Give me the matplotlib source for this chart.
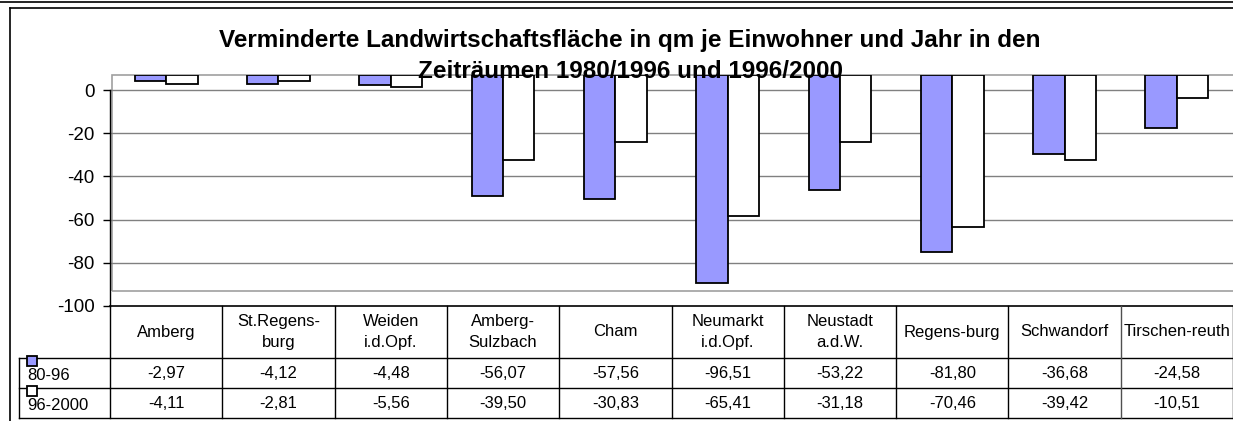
import matplotlib
matplotlib.use("Agg")
import matplotlib.pyplot as plt
from matplotlib.lines import Line2D
from matplotlib.patches import Rectangle

plt.rcParams['font.family'] = ['Liberation Sans', 'DejaVu Sans']

# ---- data ----
categories = ["Amberg", "St.Regens-\nburg", "Weiden\ni.d.Opf.", "Amberg-\nSulzbach", "Cham",
              "Neumarkt\ni.d.Opf.", "Neustadt\na.d.W.", "Regens-burg", "Schwandorf", "Tirschen-reuth"]
series_names = ["80-96", "96-2000"]
values_8096 = [-2.97, -4.12, -4.48, -56.07, -57.56, -96.51, -53.22, -81.80, -36.68, -24.58]
values_9600 = [-4.11, -2.81, -5.56, -39.50, -30.83, -65.41, -31.18, -70.46, -39.42, -10.51]
yticks = [0, -20, -40, -60, -80, -100]
title_lines = ["Verminderte Landwirtschaftsfläche in qm je Einwohner und Jahr in den",
               "Zeiträumen 1980/1996 und 1996/2000"]

W, H = 1233, 421
fig = plt.figure(figsize=(W / 100, H / 100), dpi=100)
fig.patch.set_facecolor("white")

def fx(px):
    return px / W

def fy(py):
    return 1 - py / H

# outer frame lines
fig.add_artist(Line2D([0, 1], [fy(1.5), fy(1.5)], color="black", lw=1.2))
fig.add_artist(Line2D([fx(10), 1], [fy(8), fy(8)], color="black", lw=1.2))
fig.add_artist(Line2D([fx(10), fx(10)], [fy(8), 0], color="black", lw=1.2))

# title
fig.text(fx(630), fy(47.5), title_lines[0], ha="center", va="baseline",
         fontsize=17.5, fontweight="bold")
fig.text(fx(630), fy(78.5), title_lines[1], ha="center", va="baseline",
         fontsize=17.5, fontweight="bold")

# ---- main plot ----
left_px, right_px, top_px, bot_px = 110, 1233, 75, 306
ax = fig.add_axes([fx(left_px), fy(bot_px), fx(right_px - left_px), (bot_px - top_px) / H])
ax.set_facecolor("none")
ymax = 7
ax.set_xlim(-0.5, len(categories) - 0.5)
ax.set_ylim(-100, ymax)

# plot-area border (gray)
ax.add_patch(Rectangle((-0.5 + 0.02, -93), len(categories), 93 + ymax,
                       fill=False, edgecolor="#a0a0a0", lw=1.2, clip_on=False, zorder=1))
for t in yticks[:-1]:
    ax.axhline(t, color="#808080", lw=1.0, zorder=1)

x = list(range(len(categories)))
bw = 0.28
ax.bar([i - bw / 2 for i in x], values_8096, width=bw, bottom=ymax,
       color="#9999ff", edgecolor="black", lw=1.3, zorder=3)
ax.bar([i + bw / 2 for i in x], values_9600, width=bw, bottom=ymax,
       color="white", edgecolor="black", lw=1.3, zorder=3)

for s in ["top", "right", "bottom"]:
    ax.spines[s].set_visible(False)
ax.spines["left"].set_bounds(-100, 0)
ax.spines["left"].set_color("black")
ax.spines["left"].set_linewidth(1.0)
ax.set_yticks(yticks)
ax.set_yticklabels([str(t) for t in yticks])
ax.tick_params(axis="y", length=5, width=1, pad=6, labelsize=13.5, direction="out")
ax.set_xticks([])

# ---- data table ----
tab_bot = 418
tax = fig.add_axes([fx(left_px), fy(tab_bot), fx(right_px - left_px), (tab_bot - bot_px) / H])
tax.set_xlim(-0.5, len(categories) - 0.5)
tax.set_ylim(tab_bot - bot_px, 0)
tax.axis("off")
colw = (right_px - left_px) / len(categories)
leg_left = -0.5 - (left_px - 19) / colw
row_y = [0, 52, 82, 112]

tax.plot([-0.5, len(categories) - 0.5], [0, 0], color="black", lw=1.2, clip_on=False)
for ry in row_y[1:]:
    tax.plot([leg_left, len(categories) - 0.5], [ry, ry], color="black", lw=1.0, clip_on=False)
for i in range(len(categories) + 1):
    tax.plot([i - 0.5, i - 0.5], [0, row_y[-1]], color="#505050" if i == 9 else "black",
             lw=1.0, clip_on=False)
tax.plot([leg_left, leg_left], [row_y[1], row_y[-1]], color="black", lw=1.0, clip_on=False)

fs = 12
for i, c in enumerate(categories):
    tax.text(i, 26, c, ha="center", va="center", fontsize=fs, linespacing=1.45)
    tax.text(i, 67, f"{values_8096[i]:.2f}".replace(".", ","), ha="center", va="center",
             fontsize=fs)
    tax.text(i, 97, f"{values_9600[i]:.2f}".replace(".", ","), ha="center", va="center",
             fontsize=fs)

mk_x = -0.5 - (left_px - 31.5) / colw
txt_x = -0.5 - (left_px - 27) / colw
for name, col, ry in zip(series_names, ["#9999ff", "white"], row_y[1:3]):
    tax.plot([mk_x], [ry + 2.5], marker="s", markersize=7, markerfacecolor=col,
             markeredgecolor="black", markeredgewidth=1.3, clip_on=False, zorder=5)
    tax.text(txt_x, ry + 18, name, ha="left", va="center", fontsize=fs)

fig.savefig("out.png", dpi=100)
